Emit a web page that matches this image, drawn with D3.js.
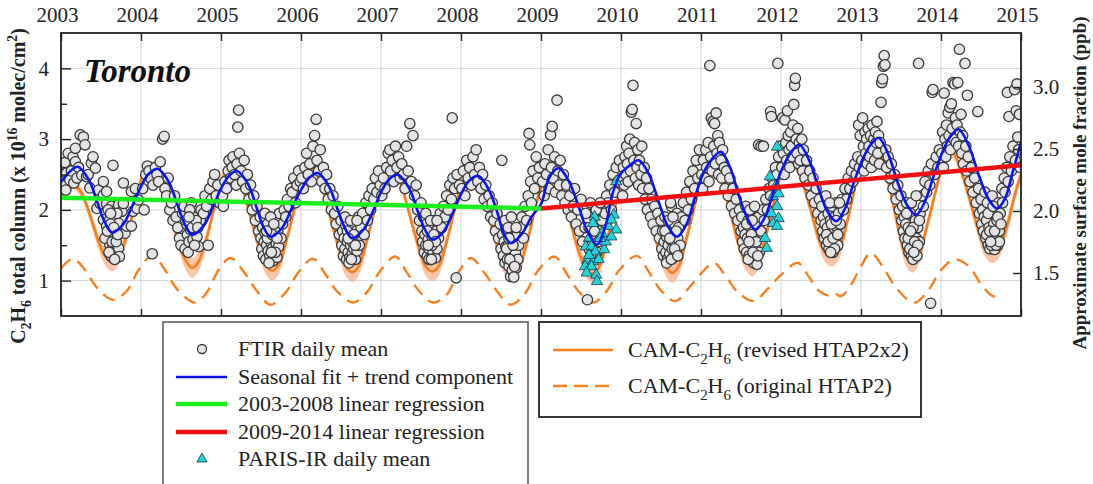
<!DOCTYPE html>
<html><head><meta charset="utf-8">
<script src="https://cdn.jsdelivr.net/npm/d3@7"></script>
<style>body{margin:0;background:#fff}svg{display:block}</style>
</head><body><svg id="c" width="1093" height="484"></svg>
<script>
// ---------------- DATA ----------------
const yearTicks = [2003,2004,2005,2006,2007,2008,2009,2010,2011,2012,2013,2014,2015];
const leftTicks = [1,2,3,4];
const leftMinor = [1.5,2.5,3.5];
const rightTicks = [1.5,2.0,2.5,3.0];

// FTIR daily means: [fraction of year, value]
const ftir2003 = [[.01,2.66],[.02,2.35],[.03,2.5],[.05,2.67],[.06,2.28],[.07,2.52],[.09,2.8],[.11,2.42],[.13,2.55],[.15,2.75],[.16,2.38],[.18,2.68],[.18,2.87],[.2,2.45],[.22,2.6],[.24,3.06],[.26,2.49],[.28,3.03],[.3,2.92],[.32,2.47],[.34,2.5],[.36,2.31],[.38,2.66],[.4,2.75],[.43,2.59],[.45,2.02],[.47,2.28],[.49,2.09],[.53,2.21],[.53,2.4],[.53,1.86],[.57,2.09],[.57,2.26],[.57,1.77],[.61,1.86],[.61,1.51],[.63,2.05],[.63,1.34],[.65,1.98],[.65,1.62],[.65,1.48],[.65,2.63],[.68,1.91],[.68,1.41],[.72,2.07],[.72,1.81],[.72,1.46],[.73,1.34],[.74,1.67],[.76,1.98],[.78,2.09],[.78,2.38],[.8,1.67],[.82,1.77],[.88,1.77],[.88,2.26],[.9,1.98],[.93,2.3],[.95,2.02],[.97,2.14],
 [.55,1.6],[.58,1.7],[.6,1.4],[.62,1.8],[.64,1.55],[.66,1.75],[.67,1.3],[.69,1.55],[.7,1.95],[.71,1.65],[.59,2.0],[.62,1.95]];
const ftir2004 = [[.02,2.3],[.04,2.0],[.06,2.5],[.08,2.62],[.1,2.55],[.12,2.45],[.14,1.38],[.15,2.35],[.18,2.6],[.2,2.5],[.22,2.4],[.24,2.68],[.27,3.0],[.29,3.04],[.3,2.3],[.32,2.2],[.34,2.45],[.36,2.0],[.38,2.1],[.4,1.85],[.42,2.2],[.44,1.9],[.46,1.75],[.48,1.6],[.5,1.5],[.52,1.95],[.54,2.05],[.55,1.45],[.57,1.8],[.58,1.65],[.6,1.55],[.62,1.72],[.63,2.1],[.65,1.58],[.66,1.9],[.68,1.7],[.7,1.62],[.72,1.48],[.74,1.85],[.75,2.0],[.78,1.95],[.8,2.2],[.82,2.05],[.84,1.5],[.86,2.3],[.88,2.15],[.9,2.4],[.92,2.5],[.94,2.2],[.96,2.35],[.98,2.1],
 [.56,1.85],[.59,1.4],[.61,2.0],[.64,1.75],[.67,1.5],[.69,1.85],[.71,1.75],[.6,1.9]];
const ftir2005 = [[.02,2.2],[.03,2.05],[.05,2.4],[.07,2.3],[.09,2.55],[.1,2.7],[.12,2.45],[.14,2.6],[.15,2.75],[.17,2.5],[.19,2.35],[.2,2.65],[.21,3.17],[.22,3.41],[.23,2.8],[.25,2.55],[.27,2.4],[.29,2.7],[.31,2.3],[.33,2.5],[.35,2.15],[.37,2.35],[.39,2.0],[.41,2.2],[.43,1.85],[.45,2.05],[.47,1.7],[.49,1.9],[.5,1.6],[.51,1.45],[.52,1.75],[.53,1.35],[.54,1.55],[.55,1.68],[.56,1.3],[.57,1.5],[.58,1.8],[.59,1.42],[.6,1.62],[.61,1.35],[.62,1.55],[.63,1.72],[.64,1.45],[.65,1.28],[.66,1.6],[.67,1.4],[.68,1.85],[.69,1.52],[.7,1.33],[.71,1.7],[.72,1.48],[.73,1.95],[.75,1.6],[.77,1.8],[.79,2.0],[.81,1.9],[.83,2.15],[.85,2.05],[.87,2.3],[.89,2.25],[.91,2.45],[.93,2.1],[.95,2.35],[.97,2.55],[.99,2.4],
 [.55,1.95],[.58,1.6],[.6,1.25],[.62,1.9],[.64,1.65],[.66,1.8],[.68,1.4],[.7,1.6],[.63,1.4],[.57,1.7]];
const ftir2006 = [[.01,2.45],[.03,2.3],[.05,2.6],[.07,2.8],[.09,2.5],[.11,2.65],[.13,2.4],[.15,2.9],[.17,3.05],[.19,3.28],[.2,2.7],[.22,2.55],[.24,2.85],[.26,2.4],[.28,2.6],[.3,2.3],[.32,2.5],[.34,2.15],[.36,2.3],[.38,2.0],[.4,2.2],[.42,1.95],[.44,1.8],[.46,2.05],[.48,1.65],[.5,1.85],[.51,1.5],[.52,1.7],[.53,1.35],[.54,1.6],[.55,1.45],[.56,1.78],[.57,1.3],[.58,1.55],[.59,1.4],[.6,1.68],[.61,1.33],[.62,1.5],[.63,1.62],[.64,1.38],[.65,1.8],[.66,1.45],[.67,1.55],[.68,1.3],[.69,1.7],[.7,1.42],[.71,1.6],[.72,1.9],[.73,1.5],[.75,1.75],[.77,1.95],[.79,1.65],[.81,2.1],[.83,1.85],[.85,2.2],[.87,2.0],[.89,2.3],[.91,2.15],[.93,2.45],[.95,2.25],[.97,2.55],[.99,2.35],
 [.55,1.9],[.58,1.7],[.6,1.25],[.62,1.85],[.64,1.55],[.66,1.65],[.68,1.5],[.7,1.85],[.63,1.3],[.59,1.6]];
const ftir2007 = [[.01,2.2],[.03,2.45],[.05,2.3],[.07,2.6],[.09,2.8],[.11,2.85],[.12,2.55],[.14,2.7],[.16,2.4],[.18,2.9],[.2,2.6],[.22,2.75],[.24,2.45],[.26,2.65],[.28,2.5],[.3,2.3],[.32,2.9],[.34,2.55],[.36,3.22],[.38,2.4],[.4,3.05],[.42,2.2],[.44,2.35],[.46,2.0],[.48,1.85],[.5,2.1],[.51,1.7],[.52,1.55],[.53,1.9],[.54,1.4],[.55,1.65],[.56,1.5],[.57,1.8],[.58,1.35],[.59,1.58],[.6,1.45],[.61,1.72],[.62,1.3],[.63,1.5],[.64,1.62],[.65,1.4],[.66,1.85],[.67,1.55],[.68,1.32],[.69,1.7],[.7,1.45],[.72,1.6],[.74,1.95],[.76,1.75],[.78,2.05],[.8,1.9],[.82,2.2],[.84,2.0],[.86,2.35],[.88,2.15],[.9,2.45],[.92,2.3],[.94,1.04],[.95,2.5],[.89,3.3],[.98,2.35],
 [.56,1.95],[.58,1.7],[.6,1.3],[.62,1.85],[.64,1.5],[.66,1.65],[.68,1.55],[.7,1.85],[.63,1.3],[.59,1.5]];
const ftir2008 = [[.01,2.3],[.03,2.55],[.05,2.2],[.07,2.7],[.09,2.45],[.11,2.6],[.13,2.35],[.15,2.75],[.17,2.5],[.19,2.85],[.21,2.4],[.23,2.6],[.25,2.3],[.27,2.5],[.29,2.15],[.31,2.35],[.33,2.05],[.35,2.2],[.37,1.9],[.39,2.1],[.41,1.85],[.43,1.7],[.45,1.95],[.47,1.6],[.49,1.8],[.5,1.45],[.51,2.7],[.52,1.65],[.53,1.35],[.54,1.55],[.55,1.25],[.56,1.48],[.57,1.7],[.58,1.3],[.59,1.5],[.6,1.2],[.61,1.42],[.62,1.06],[.63,1.6],[.64,1.15],[.65,1.35],[.66,1.25],[.67,1.55],[.68,1.4],[.69,1.18],[.7,1.65],[.71,1.3],[.72,1.5],[.74,1.75],[.76,1.9],[.78,1.6],[.8,2.05],[.82,1.85],[.84,2.2],[.85,3.08],[.86,2.92],[.87,2.4],[.88,2.1],[.9,2.55],[.92,2.3],[.94,2.75],[.96,2.45],[.98,2.6],
 [.55,1.85],[.57,1.45],[.59,1.75],[.61,1.3],[.63,1.9],[.65,1.5],[.67,1.2],[.69,1.75],[.6,1.6],[.66,1.05]];
const ftir2009 = [[.02,2.4],[.04,2.2],[.05,2.65],[.07,2.5],[.09,2.85],[.1,2.3],[.12,3.06],[.13,2.6],[.14,3.18],[.15,2.45],[.17,2.75],[.18,2.25],[.2,3.55],[.21,2.55],[.23,2.35],[.24,2.7],[.26,2.2],[.28,2.5],[.3,2.1],[.32,2.35],[.34,2.0],[.36,2.2],[.38,1.9],[.4,2.05],[.42,2.3],[.44,1.8],[.46,2.0],[.48,1.7],[.5,2.15],[.52,1.55],[.55,1.75],[.58,0.73],[.6,1.45],[.63,1.6],[.66,1.95],[.7,1.4],[.73,1.7],[.76,1.85],[.78,2.05],[.8,1.95],[.82,2.2],[.84,2.1],[.86,2.35],[.88,2.0],[.9,2.5],[.92,2.25],[.94,2.6],[.96,2.4],[.98,2.7],
 [.56,1.95],[.6,1.75],[.62,2.1],[.64,1.5],[.67,1.7],[.69,2.0],[.72,1.55],[.74,2.1],[.62,1.35]];
const ftir2010 = [[.01,2.45],[.02,2.2],[.03,2.6],[.04,2.35],[.05,2.75],[.06,2.5],[.07,2.9],[.08,2.65],[.09,2.4],[.1,2.8],[.11,3.0],[.12,2.55],[.13,3.38],[.14,3.42],[.15,3.76],[.16,2.7],[.17,2.95],[.18,2.45],[.19,3.22],[.2,2.6],[.21,2.85],[.22,2.35],[.23,2.7],[.25,2.5],[.26,2.9],[.27,2.3],[.29,2.6],[.3,2.15],[.32,2.45],[.33,2.0],[.35,2.3],[.37,1.9],[.38,2.15],[.4,1.8],[.42,2.05],[.44,1.7],[.46,1.95],[.48,1.6],[.5,1.85],[.51,1.45],[.52,1.7],[.53,1.35],[.54,1.55],[.55,1.9],[.56,1.4],[.57,1.62],[.58,1.3],[.59,1.5],[.6,1.75],[.61,1.38],[.62,1.58],[.63,2.05],[.64,1.45],[.65,1.68],[.66,1.33],[.67,1.8],[.68,1.52],[.69,1.4],[.7,1.95],[.71,1.6],[.72,1.75],[.74,1.5],[.76,1.9],[.78,2.1],[.8,1.85],[.82,2.25],[.84,2.0],[.86,2.4],[.88,2.15],[.9,2.55],[.92,2.3],[.94,2.7],[.96,2.45],[.98,2.85],
 [.55,1.7],[.57,1.25],[.59,1.85],[.61,1.6],[.63,1.3],[.65,1.9],[.67,1.45],[.69,1.7],[.71,1.35],[.62,2.1]];
const ftir2011 = [[.01,2.5],[.02,2.3],[.03,2.7],[.05,2.45],[.06,2.85],[.07,2.6],[.09,2.95],[.1,2.4],[.11,4.04],[.12,2.75],[.13,3.3],[.14,2.55],[.15,3.25],[.16,2.9],[.17,3.22],[.18,2.65],[.19,3.37],[.2,2.8],[.21,3.05],[.22,2.5],[.23,2.95],[.25,2.7],[.26,2.45],[.27,2.85],[.29,2.6],[.3,2.3],[.32,2.55],[.34,2.2],[.36,2.45],[.38,2.05],[.4,2.3],[.42,1.95],[.44,2.15],[.46,1.85],[.48,2.0],[.5,1.7],[.51,1.9],[.52,1.55],[.53,1.75],[.54,1.45],[.55,1.65],[.56,2.05],[.57,1.4],[.58,1.6],[.59,1.85],[.6,1.35],[.61,1.55],[.62,1.75],[.63,1.3],[.64,1.5],[.65,1.95],[.66,1.25],[.67,1.65],[.68,1.45],[.69,1.8],[.7,1.23],[.71,1.6],[.72,1.9],[.72,2.92],[.73,1.4],[.75,1.7],[.75,2.9],[.77,2.0],[.78,2.9],[.79,1.85],[.81,2.15],[.83,2.0],[.85,2.3],[.87,3.39],[.88,3.32],[.87,2.2],[.89,2.45],[.91,2.35],[.93,2.6],[.95,2.5],[.96,4.07],[.97,2.75],[.99,2.9],
 [.57,1.8],[.59,1.3],[.61,2.0],[.63,1.65],[.65,1.4],[.67,2.05],[.69,1.55],[.71,1.35],[.64,1.85],[.6,1.55]];
const ftir2012 = [[.01,2.6],[.02,3.3],[.03,2.8],[.04,2.5],[.05,3.27],[.06,2.95],[.07,2.7],[.08,3.4],[.09,3.05],[.1,2.85],[.11,2.6],[.12,3.1],[.13,2.9],[.14,2.75],[.15,3.2],[.16,3.49],[.17,3.76],[.18,3.86],[.19,3.0],[.2,2.8],[.21,3.15],[.22,2.65],[.23,2.95],[.24,2.7],[.26,3.0],[.27,2.55],[.28,2.85],[.3,2.45],[.32,2.7],[.34,2.35],[.36,2.55],[.38,2.2],[.4,2.45],[.42,2.1],[.44,2.3],[.46,1.95],[.48,2.15],[.5,1.85],[.51,2.05],[.52,1.7],[.53,1.9],[.54,1.6],[.55,1.8],[.56,2.2],[.57,1.5],[.58,1.75],[.59,1.95],[.6,1.45],[.61,1.65],[.62,1.85],[.63,1.55],[.64,2.05],[.65,1.4],[.66,1.7],[.67,1.9],[.68,1.6],[.69,2.1],[.7,1.75],[.71,1.5],[.72,1.95],[.74,1.8],[.76,2.15],[.78,2.0],[.8,2.3],[.82,2.15],[.84,2.45],[.86,2.3],[.88,2.55],[.9,2.4],[.92,2.65],[.94,2.5],[.96,2.75],[.97,3.2],[.98,2.6],[.99,3.05],
 [.57,1.65],[.59,1.55],[.61,2.1],[.63,1.8],[.65,1.6],[.67,1.45],[.69,1.85],[.71,1.65],[.73,2.1],[.62,1.4]];
const ftir2013 = [[.01,2.7],[.02,3.3],[.03,2.9],[.04,2.55],[.05,3.1],[.06,2.8],[.07,3.0],[.08,2.65],[.09,3.15],[.1,2.9],[.11,2.75],[.12,3.05],[.13,2.6],[.14,3.2],[.15,2.85],[.16,3.0],[.17,2.7],[.18,3.1],[.19,2.95],[.2,3.25],[.21,2.8],[.22,3.05],[.23,2.65],[.24,2.95],[.25,3.52],[.26,3.8],[.27,3.85],[.28,4.03],[.29,4.18],[.3,4.05],[.31,2.85],[.32,2.6],[.34,2.75],[.36,2.45],[.38,2.65],[.4,2.3],[.42,2.5],[.44,2.15],[.46,2.35],[.48,2.0],[.5,2.2],[.51,1.85],[.52,2.05],[.53,1.7],[.54,1.9],[.55,1.6],[.56,1.8],[.57,2.1],[.58,1.5],[.59,1.75],[.6,1.4],[.61,1.65],[.62,1.95],[.63,1.35],[.64,1.55],[.65,1.3],[.66,1.7],[.67,1.45],[.68,1.85],[.69,1.6],[.7,1.35],[.71,1.75],[.72,4.07],[.73,1.55],[.74,1.95],[.76,2.2],[.78,2.05],[.8,2.4],[.82,2.25],[.84,2.55],[.86,2.35],[.87,0.68],[.88,2.65],[.89,3.66],[.9,3.7],[.92,2.5],[.94,2.75],[.96,2.6],[.98,2.85],
 [.57,1.95],[.59,1.6],[.61,1.45],[.63,2.1],[.65,1.75],[.67,1.55],[.69,2.2],[.71,1.5],[.73,1.85],[.62,1.7],[.66,1.4]];
const ftir2014 = [[.01,2.8],[.02,3.1],[.03,2.6],[.04,3.65],[.05,3.0],[.06,2.75],[.07,3.2],[.08,2.9],[.09,3.37],[.1,3.05],[.11,3.45],[.12,2.85],[.13,3.5],[.14,3.15],[.15,3.8],[.16,3.0],[.17,3.78],[.18,3.3],[.19,2.95],[.2,3.2],[.21,3.8],[.22,2.9],[.23,4.27],[.24,3.1],[.25,3.35],[.26,2.8],[.27,3.05],[.28,2.65],[.3,4.07],[.31,2.9],[.32,2.55],[.33,3.62],[.34,2.75],[.36,2.4],[.38,2.6],[.4,2.25],[.42,2.45],[.44,2.1],[.46,3.39],[.47,2.3],[.48,1.95],[.5,2.15],[.51,1.8],[.52,2.0],[.53,1.7],[.54,1.9],[.55,2.25],[.56,1.6],[.57,1.85],[.58,2.1],[.59,1.5],[.6,1.75],[.61,1.45],[.62,1.95],[.63,1.65],[.64,2.2],[.65,1.55],[.66,1.8],[.67,1.44],[.68,2.0],[.69,1.6],[.7,1.85],[.71,1.5],[.72,2.1],[.73,1.7],[.74,1.95],[.76,2.3],[.77,2.1],[.79,2.45],[.8,2.25],[.82,2.6],[.83,3.66],[.84,2.4],[.85,3.32],[.86,2.75],[.88,2.55],[.9,2.9],[.92,3.7],[.93,2.7],[.94,3.4],[.95,3.78],[.96,3.03],[.97,2.85],[.98,3.35],[.99,2.6],
 [.57,1.65],[.59,1.95],[.61,1.7],[.63,1.5],[.65,2.05],[.67,1.7],[.69,1.5],[.71,1.9],[.73,1.55],[.75,1.8],[.62,1.55]];

// PARIS-IR daily means: [decimal year, value]
const parisIR = [[2009.94,2.4],[2009.91,1.93],[2009.84,1.77],[2009.94,1.72],[2009.67,1.9],[2009.65,1.81],[2009.6,1.6],[2009.56,1.48],[2009.63,1.48],[2009.68,1.41],[2009.58,1.29],[2009.65,1.27],[2009.55,1.2],[2009.63,1.2],[2009.57,1.11],[2009.69,1.08],[2009.7,0.99],[2009.79,1.44],[2009.81,1.55],[2009.88,1.62],[2009.88,1.86],[2009.76,1.67],[2009.6,1.36],[2009.72,1.3],[2009.74,1.6],
  [2011.95,2.89],[2011.86,2.47],[2011.9,2.19],[2011.97,2.23],[2011.95,2.05],[2011.88,1.95],[2011.97,1.88],[2011.9,1.81],[2011.95,1.77],[2011.8,1.6],[2011.82,1.46],[2011.93,2.33]];

// Seasonal fit + trend: [decimal year, value]
const seasonalFit = [[2003.00,2.39],[2003.10,2.53],[2003.21,2.61],[2003.35,2.42],[2003.45,2.12],[2003.55,1.82],[2003.64,1.68],[2003.78,1.80],[2003.90,2.08],
 [2004.00,2.33],[2004.10,2.51],[2004.21,2.58],[2004.35,2.39],[2004.45,2.09],[2004.55,1.79],[2004.64,1.65],[2004.78,1.77],[2004.90,2.04],
 [2005.00,2.30],[2005.10,2.48],[2005.20,2.55],[2005.34,2.36],[2005.44,2.05],[2005.53,1.76],[2005.62,1.62],[2005.76,1.74],[2005.88,2.01],
 [2006.00,2.28],[2006.10,2.45],[2006.21,2.52],[2006.35,2.33],[2006.45,2.03],[2006.55,1.74],[2006.64,1.60],[2006.78,1.72],[2006.90,1.98],
 [2007.00,2.25],[2007.10,2.43],[2007.21,2.50],[2007.35,2.31],[2007.45,2.01],[2007.55,1.72],[2007.64,1.58],[2007.78,1.69],[2007.90,1.96],
 [2008.00,2.22],[2008.10,2.41],[2008.22,2.48],[2008.35,2.28],[2008.45,1.98],[2008.53,1.68],[2008.62,1.53],[2008.76,1.66],[2008.88,1.90],
 [2009.00,2.08],[2009.10,2.45],[2009.22,2.59],[2009.35,2.40],[2009.47,2.05],[2009.58,1.70],[2009.70,1.51],[2009.80,1.75],[2009.90,2.25],
 [2009.99,2.50],[2010.10,2.62],[2010.22,2.70],[2010.35,2.50],[2010.47,2.12],[2010.58,1.78],[2010.70,1.62],[2010.82,1.80],[2010.93,2.20],
 [2011.03,2.52],[2011.14,2.72],[2011.25,2.82],[2011.37,2.58],[2011.48,2.18],[2011.58,1.88],[2011.68,1.72],[2011.80,1.90],[2011.92,2.30],
 [2012.03,2.62],[2012.13,2.82],[2012.23,2.92],[2012.36,2.68],[2012.47,2.30],[2012.58,1.98],[2012.69,1.84],[2012.80,2.02],[2012.92,2.42],
 [2013.03,2.74],[2013.12,2.92],[2013.22,3.02],[2013.35,2.76],[2013.46,2.38],[2013.58,2.06],[2013.69,1.93],[2013.80,2.12],[2013.92,2.52],
 [2014.03,2.85],[2014.12,3.04],[2014.22,3.14],[2014.35,2.90],[2014.47,2.50],[2014.59,2.16],[2014.70,2.02],[2014.80,2.16],[2014.90,2.55],[2015.00,2.96]];

// Linear regressions: [decimal year, value]
const reg2003_2008 = [[2003.0,2.17],[2009.0,2.02]];
const reg2009_2014 = [[2009.0,2.02],[2015.0,2.63]];

// CAM-C2H6 revised HTAP2x2: [decimal year, value, spread]
const camRevised = [
 [2003.00,2.35,.07],[2003.05,2.2,.07],[2003.15,2.36,.07],[2003.25,2.25,.07],[2003.37,1.9,.09],[2003.47,1.55,.11],[2003.56,1.33,.13],[2003.64,1.27,.14],[2003.72,1.35,.13],[2003.82,1.62,.1],[2003.92,2.05,.08],
 [2004.00,2.42,.07],[2004.08,2.58,.07],[2004.15,2.62,.07],[2004.25,2.4,.07],[2004.37,1.95,.09],[2004.47,1.55,.11],[2004.56,1.28,.13],[2004.64,1.18,.14],[2004.72,1.27,.13],[2004.82,1.6,.1],[2004.92,2.05,.08],
 [2005.00,2.4,.07],[2005.08,2.55,.07],[2005.15,2.6,.07],[2005.25,2.38,.07],[2005.37,1.9,.09],[2005.47,1.5,.11],[2005.56,1.22,.13],[2005.64,1.14,.14],[2005.72,1.22,.13],[2005.82,1.58,.1],[2005.92,2.02,.08],
 [2006.00,2.38,.07],[2006.08,2.52,.07],[2006.15,2.58,.07],[2006.25,2.35,.07],[2006.37,1.88,.09],[2006.47,1.48,.11],[2006.56,1.2,.13],[2006.64,1.12,.14],[2006.72,1.2,.13],[2006.82,1.55,.1],[2006.92,2.0,.08],
 [2007.00,2.36,.07],[2007.08,2.52,.07],[2007.15,2.6,.07],[2007.25,2.36,.07],[2007.37,1.88,.09],[2007.47,1.48,.11],[2007.56,1.2,.13],[2007.64,1.13,.14],[2007.72,1.2,.13],[2007.82,1.55,.1],[2007.92,2.0,.08],
 [2008.00,2.34,.07],[2008.08,2.5,.07],[2008.15,2.55,.07],[2008.25,2.3,.07],[2008.37,1.82,.09],[2008.47,1.42,.11],[2008.56,1.2,.13],[2008.64,1.15,.14],[2008.72,1.2,.13],[2008.82,1.52,.1],[2008.92,1.98,.08],
 [2009.00,2.32,.07],[2009.08,2.46,.07],[2009.15,2.48,.07],[2009.25,2.28,.07],[2009.37,1.82,.09],[2009.47,1.42,.11],[2009.56,1.18,.13],[2009.64,1.1,.14],[2009.72,1.18,.13],[2009.82,1.55,.1],[2009.92,2.0,.08],
 [2010.00,2.38,.07],[2010.08,2.52,.07],[2010.15,2.56,.07],[2010.25,2.35,.07],[2010.37,1.88,.09],[2010.47,1.45,.11],[2010.56,1.2,.13],[2010.64,1.11,.14],[2010.72,1.2,.13],[2010.82,1.6,.1],[2010.92,2.05,.08],
 [2011.00,2.4,.07],[2011.08,2.58,.07],[2011.15,2.63,.07],[2011.25,2.42,.07],[2011.37,1.95,.09],[2011.47,1.52,.11],[2011.56,1.28,.13],[2011.64,1.2,.14],[2011.72,1.3,.13],[2011.82,1.68,.1],[2011.92,2.15,.08],
 [2012.00,2.5,.07],[2012.08,2.62,.07],[2012.15,2.66,.07],[2012.25,2.45,.07],[2012.37,2.0,.09],[2012.47,1.6,.11],[2012.56,1.38,.13],[2012.64,1.34,.14],[2012.72,1.42,.13],[2012.82,1.8,.1],[2012.92,2.3,.08],
 [2013.00,2.7,.07],[2013.08,3.05,.07],[2013.15,3.1,.07],[2013.25,2.8,.07],[2013.37,2.25,.09],[2013.47,1.72,.11],[2013.56,1.35,.13],[2013.64,1.25,.14],[2013.72,1.35,.13],[2013.82,1.75,.1],[2013.92,2.2,.08],
 [2014.00,2.55,.07],[2014.08,2.75,.07],[2014.15,2.8,.07],[2014.25,2.55,.07],[2014.37,2.1,.09],[2014.47,1.7,.11],[2014.56,1.45,.13],[2014.64,1.39,.14],[2014.72,1.45,.14],[2014.82,1.75,.12],[2014.92,2.2,.1],[2015.00,2.5,.08]];

// CAM-C2H6 original HTAP2: [decimal year, value]
const camOriginal = [[2003.00,1.17],[2003.15,1.31],[2003.30,1.15],[2003.45,0.9],[2003.65,0.73],[2003.82,0.85],[2003.97,1.15],
 [2004.15,1.36],[2004.30,1.15],[2004.45,0.88],[2004.68,0.69],[2004.82,0.83],[2004.97,1.15],
 [2005.12,1.32],[2005.30,1.1],[2005.45,0.85],[2005.62,0.66],[2005.80,0.82],[2005.97,1.12],
 [2006.15,1.31],[2006.30,1.1],[2006.45,0.85],[2006.65,0.69],[2006.82,0.83],[2006.98,1.12],
 [2007.18,1.34],[2007.32,1.12],[2007.47,0.86],[2007.65,0.69],[2007.82,0.8],[2007.97,1.12],
 [2008.12,1.32],[2008.30,1.1],[2008.45,0.85],[2008.62,0.66],[2008.80,0.82],[2008.97,1.15],
 [2009.17,1.34],[2009.32,1.1],[2009.47,0.85],[2009.65,0.69],[2009.82,0.85],[2009.98,1.15],
 [2010.20,1.35],[2010.35,1.12],[2010.50,0.86],[2010.68,0.71],[2010.85,0.9],[2011.00,1.1],
 [2011.16,1.25],[2011.30,1.08],[2011.45,0.85],[2011.66,0.71],[2011.83,0.88],[2012.00,1.08],
 [2012.21,1.25],[2012.35,1.05],[2012.48,0.85],[2012.60,0.79],[2012.67,0.82],[2012.75,0.78],[2012.88,0.95],[2013.00,1.2],
 [2013.12,1.39],[2013.27,1.2],[2013.45,0.88],[2013.67,0.69],[2013.85,0.88],[2014.00,1.15],
 [2014.17,1.3],[2014.35,1.2],[2014.50,0.95],[2014.65,0.78],[2014.75,0.8]];

// ---------------- FONT PICK ----------------
function pickFont(cands){
  const c = document.createElement('canvas').getContext('2d');
  const s = 'Seasonal fit + trend component 2003 WQmgi';
  for (const f of cands){
    let diff = false;
    for (const fb of ['monospace','sans-serif']){
      c.font = `20px ${fb}`; const w0 = c.measureText(s).width;
      c.font = `20px "${f}", ${fb}`; const w1 = c.measureText(s).width;
      if (Math.abs(w1-w0) > 0.5) diff = true; else { diff = false; break; }
    }
    if (diff) return `"${f}"`;
  }
  return 'serif';
}
const FONT = pickFont(['Liberation Serif','Tinos','Times New Roman','DejaVu Serif','Noto Serif','FreeSerif','Nimbus Roman','Nimbus Roman No9 L','Noto Serif CJK SC','Noto Serif CJK JP','Source Serif Pro','Georgia','serif']) + ', serif';

// ---------------- DRAW ----------------
const svg = d3.select('#c').attr('font-family', FONT);
const X0 = 61, X1 = 1021, Y0 = 33, Y1 = 316;
const x = d3.scaleLinear().domain([2003, 2015]).range([X0, X1]);
const y = d3.scaleLinear().domain([0.5, 4.5]).range([Y1, Y0]);
const yR = d3.scaleLinear().domain([1.5, 3.0]).range([273, 87]);

const ftirByYear = [ftir2003,ftir2004,ftir2005,ftir2006,ftir2007,ftir2008,ftir2009,ftir2010,ftir2011,ftir2012,ftir2013,ftir2014];
const ftir = [];
ftirByYear.forEach((arr, i) => arr.forEach(d => ftir.push([2003 + i + d[0], d[1]])));

svg.append('defs').append('clipPath').attr('id','clip')
  .append('rect').attr('x',X0).attr('y',Y0).attr('width',X1-X0).attr('height',Y1-Y0);

// grid
const grid = svg.append('g').attr('stroke','#d4d4d4').attr('stroke-width',1);
grid.selectAll('line.v').data(yearTicks.slice(1,-1)).join('line')
  .attr('x1',d=>x(d)).attr('x2',d=>x(d)).attr('y1',Y0).attr('y2',Y1);
grid.selectAll('line.h').data(leftTicks).join('line')
  .attr('x1',X0).attr('x2',X1).attr('y1',d=>y(d)).attr('y2',d=>y(d));

const plot = svg.append('g').attr('clip-path','url(#clip)');

plot.append('path').datum(camRevised)
  .attr('fill','#f9b590').attr('opacity',0.8)
  .attr('d', d3.area().x(d=>x(d[0])).y0(d=>y(d[1]-d[2])).y1(d=>y(d[1]+d[2])).curve(d3.curveCatmullRom));
plot.append('path').datum(camRevised)
  .attr('fill','none').attr('stroke','#f7801e').attr('stroke-width',2.6)
  .attr('d', d3.line().x(d=>x(d[0])).y(d=>y(d[1])).curve(d3.curveCatmullRom));
plot.append('path').datum(camOriginal)
  .attr('fill','none').attr('stroke','#f7801e').attr('stroke-width',2.4).attr('stroke-dasharray','13,8')
  .attr('d', d3.line().x(d=>x(d[0])).y(d=>y(d[1])).curve(d3.curveCatmullRom));

plot.append('g').selectAll('circle').data(ftir).join('circle')
  .attr('cx',d=>x(d[0])).attr('cy',d=>y(d[1])).attr('r',5.2)
  .attr('fill','#e4e4e4').attr('stroke','#383838').attr('stroke-width',1.3);

const tri = d3.symbol().type(d3.symbolTriangle).size(55);
plot.append('g').selectAll('path').data(parisIR).join('path')
  .attr('transform',d=>`translate(${x(d[0])},${y(d[1])})`).attr('d',tri)
  .attr('fill','#22d4d8').attr('stroke','#234').attr('stroke-width',0.8);

plot.append('path').datum(seasonalFit)
  .attr('fill','none').attr('stroke','#0a14f0').attr('stroke-width',2.6)
  .attr('d', d3.line().x(d=>x(d[0])).y(d=>y(d[1])).curve(d3.curveCatmullRom));

const ln = d3.line().x(d=>x(d[0])).y(d=>y(d[1]));
plot.append('path').datum(reg2003_2008).attr('fill','none').attr('stroke','#1cf01c').attr('stroke-width',4.5).attr('d',ln);
plot.append('path').datum(reg2009_2014).attr('fill','none').attr('stroke','#f01010').attr('stroke-width',4.5).attr('d',ln);

// axes
function styleAxis(g){
  g.attr('font-family', FONT);
  g.select('.domain').remove();
  g.selectAll('line').attr('stroke','#222').attr('stroke-width',1.4);
  g.selectAll('text').attr('font-size',21).attr('fill','#222');
}
svg.append('g').attr('transform',`translate(0,${Y0})`)
  .call(d3.axisTop(x).tickValues(yearTicks).tickFormat(d3.format('d')).tickSize(-8).tickPadding(11))
  .call(styleAxis).call(g=>g.selectAll('text').attr('dx',-4));
svg.append('g').attr('transform',`translate(0,${Y1})`)
  .call(d3.axisBottom(x).tickValues(yearTicks).tickSize(-7).tickFormat(''))
  .call(styleAxis);
svg.append('g').attr('transform',`translate(${X0},0)`)
  .call(d3.axisLeft(y).tickValues(leftTicks).tickFormat(d3.format('d')).tickSize(-10).tickPadding(12))
  .call(styleAxis);
svg.append('g').attr('transform',`translate(${X0},0)`)
  .call(d3.axisLeft(y).tickValues(leftMinor).tickFormat('').tickSize(-6))
  .call(styleAxis);
svg.append('g').attr('transform',`translate(${X1},0)`)
  .call(d3.axisRight(yR).tickValues(rightTicks).tickFormat(d3.format('.1f')).tickSize(-8).tickPadding(12))
  .call(styleAxis);

svg.append('rect').attr('x',X0).attr('y',Y0).attr('width',X1-X0).attr('height',Y1-Y0)
  .attr('fill','none').attr('stroke','#222').attr('stroke-width',1.8);

function rich(t, parts, base){
  let cur = 0;
  parts.forEach(p => {
    const s = p[0], k = p[1] || '';
    const target = k==='sub' ? base*0.32 : k==='sup' ? -base*0.42 : 0;
    const ts = t.append('tspan').text(s).attr('dy', target - cur);
    if (k) ts.attr('font-size', base*0.68);
    cur = target;
  });
}

svg.append('text').attr('x',84).attr('y',82).attr('font-size',33)
  .attr('font-weight','bold').attr('font-style','italic').attr('fill','#111').text('Toronto');

const lt = svg.append('text').attr('transform','translate(25,186) rotate(-90)')
  .attr('text-anchor','middle').attr('font-size',20).attr('font-weight','bold').attr('fill','#222');
rich(lt, [['C'],['2','sub'],['H'],['6','sub'],[' total column (x 10'],['16','sup'],[' molec/cm'],['2','sup'],[')']], 20);
svg.append('text').attr('transform','translate(1086,183) rotate(-90)')
  .attr('text-anchor','middle').attr('font-size',19).attr('font-weight','bold').attr('fill','#222')
  .text('Approximate surface mole fraction (ppb)');

const legL = svg.append('g');
legL.append('rect').attr('x',163).attr('y',322).attr('width',365).attr('height',200)
  .attr('fill','#fff').attr('stroke','#555').attr('stroke-width',1.5);
const rowsL = [349,377,404,432,459];
legL.append('circle').attr('cx',202).attr('cy',rowsL[0]).attr('r',4.5).attr('fill','#e4e4e4').attr('stroke','#383838').attr('stroke-width',1.3);
legL.append('line').attr('x1',176).attr('x2',227).attr('y1',rowsL[1]).attr('y2',rowsL[1]).attr('stroke','#0a14f0').attr('stroke-width',2.6);
legL.append('line').attr('x1',176).attr('x2',227).attr('y1',rowsL[2]).attr('y2',rowsL[2]).attr('stroke','#1cf01c').attr('stroke-width',4.5);
legL.append('line').attr('x1',176).attr('x2',227).attr('y1',rowsL[3]).attr('y2',rowsL[3]).attr('stroke','#f01010').attr('stroke-width',4.5);
legL.append('path').attr('transform',`translate(202,${rowsL[4]})`).attr('d',d3.symbol().type(d3.symbolTriangle).size(45))
  .attr('fill','#22d4d8').attr('stroke','#234').attr('stroke-width',0.8);
const labelsL = ['FTIR daily mean','Seasonal fit + trend component','2003-2008 linear regression','2009-2014 linear regression','PARIS-IR daily mean'];
labelsL.forEach((s,i)=>legL.append('text').attr('x',238).attr('y',rowsL[i]+7).attr('font-size',22).attr('fill','#222').text(s));

const legR = svg.append('g');
legR.append('rect').attr('x',539).attr('y',322).attr('width',382).attr('height',95)
  .attr('fill','#fff').attr('stroke','#222').attr('stroke-width',1.8);
legR.append('line').attr('x1',553).attr('x2',613).attr('y1',350).attr('y2',350).attr('stroke','#f7801e').attr('stroke-width',2.6);
legR.append('line').attr('x1',553).attr('x2',613).attr('y1',386).attr('y2',386).attr('stroke','#f7801e').attr('stroke-width',2.4).attr('stroke-dasharray','14,7');
const r1 = legR.append('text').attr('x',628).attr('y',357).attr('font-size',22).attr('fill','#222');
rich(r1, [['CAM-C'],['2','sub'],['H'],['6','sub'],[' (revised HTAP2x2)']], 22);
const r2 = legR.append('text').attr('x',628).attr('y',393).attr('font-size',22).attr('fill','#222');
rich(r2, [['CAM-C'],['2','sub'],['H'],['6','sub'],[' (original HTAP2)']], 22);
</script></body></html>
